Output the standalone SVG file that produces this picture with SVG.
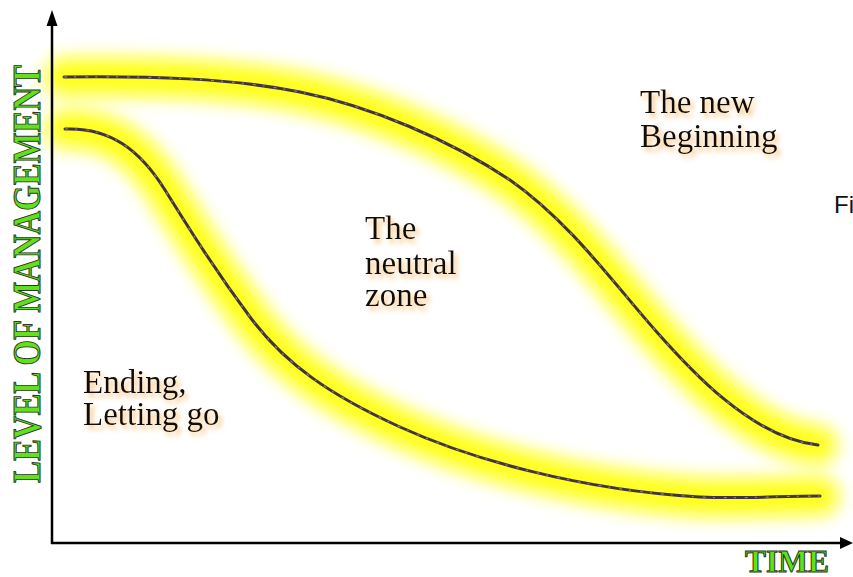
<svg xmlns="http://www.w3.org/2000/svg" width="853" height="577" viewBox="0 0 853 577">
  <defs>
    <filter id="glow" x="-20%" y="-40%" width="140%" height="180%">
      <feGaussianBlur stdDeviation="9"/>
    </filter>
    <filter id="tshadow" x="-10%" y="-20%" width="130%" height="150%">
      <feGaussianBlur in="SourceAlpha" stdDeviation="2.5" result="b"/>
      <feOffset in="b" dx="3" dy="4" result="o"/>
      <feFlood flood-color="#f0a540" flood-opacity="0.7"/>
      <feComposite in2="o" operator="in" result="s"/>
      <feMerge>
        <feMergeNode in="s"/>
        <feMergeNode in="SourceGraphic"/>
      </feMerge>
    </filter>
  </defs>
  <style>
    .glow { fill: none; stroke: #ffff10; stroke-width: 38; stroke-linecap: round; filter: url(#glow); opacity: 0.95; }
    .curve { fill: none; stroke: #3f3440; stroke-width: 3; stroke-linecap: round; }
    .tex { fill: none; stroke: #b08a96; stroke-width: 1.2; stroke-dasharray: 3 7 2 9; opacity: 0.8; }
    .axis { stroke: #000; stroke-width: 2.5; fill: none; }
    .lbl { font-family: "Liberation Serif", "Times New Roman", serif; font-size: 33px; fill: #111; filter: url(#tshadow); }
    .axlbl { font-family: "Liberation Serif", "Times New Roman", serif; font-weight: bold; fill: #62e01c; stroke: #2a3a20; stroke-width: 1; }
  </style>
  <rect width="853" height="577" fill="#fff"/>

  <g id="glows">
    <path class="glow" d="M64,77 C150,76 230,78 300,92 C370,106 450,140 510,180 C570,222 615,285 655,330 C685,364 750,438 818,445"/>
    <path class="glow" d="M65,129 C110,127 140,150 165,190 C190,230 215,270 250,317 C285,364 330,395 400,427 C470,459 580,490 700,497 C740,499 780,496 820,496"/>
  </g>

  <g id="connectors">
    <path id="curve-top" class="curve" d="M64,77 C150,76 230,78 300,92 C370,106 450,140 510,180 C570,222 615,285 655,330 C685,364 750,438 818,445"/>
    <path class="tex" d="M64,77 C150,76 230,78 300,92 C370,106 450,140 510,180 C570,222 615,285 655,330 C685,364 750,438 818,445"/>
    <path id="curve-bottom" class="curve" d="M65,129 C110,127 140,150 165,190 C190,230 215,270 250,317 C285,364 330,395 400,427 C470,459 580,490 700,497 C740,499 780,496 820,496"/>
    <path class="tex" d="M65,129 C110,127 140,150 165,190 C190,230 215,270 250,317 C285,364 330,395 400,427 C470,459 580,490 700,497 C740,499 780,496 820,496"/>
  </g>

  <g id="axes">
    <line class="axis" x1="52" y1="22" x2="52" y2="544"/>
    <line class="axis" x1="51" y1="543" x2="844" y2="543"/>
    <polygon points="52,10 46.5,26 57.5,26" fill="#000"/>
    <polygon points="853,543 840,537 840,549" fill="#000"/>
  </g>

  <g id="axis-y-label">
    <text class="axlbl" transform="translate(40,274) rotate(-90)" text-anchor="middle" font-size="40" textLength="418" lengthAdjust="spacingAndGlyphs">LEVEL OF MANAGEMENT</text>
  </g>
  <g id="axis-x-label">
    <text class="axlbl" x="745" y="572" font-size="31" textLength="84" lengthAdjust="spacingAndGlyphs">TIME</text>
  </g>

  <g id="node-new-beginning">
    <text class="lbl" x="640" y="113">The new</text>
    <text class="lbl" x="640" y="147">Beginning</text>
  </g>
  <g id="node-neutral-zone">
    <text class="lbl" x="365" y="239">The</text>
    <text class="lbl" x="365" y="274">neutral</text>
    <text class="lbl" x="365" y="306">zone</text>
  </g>
  <g id="node-ending">
    <text class="lbl" x="83" y="393">Ending,</text>
    <text class="lbl" x="83" y="425">Letting go</text>
  </g>
  <g id="fi">
    <text x="834" y="213" font-family="'Liberation Sans', Arial, sans-serif" font-size="24" fill="#111">Fi</text>
  </g>
</svg>
